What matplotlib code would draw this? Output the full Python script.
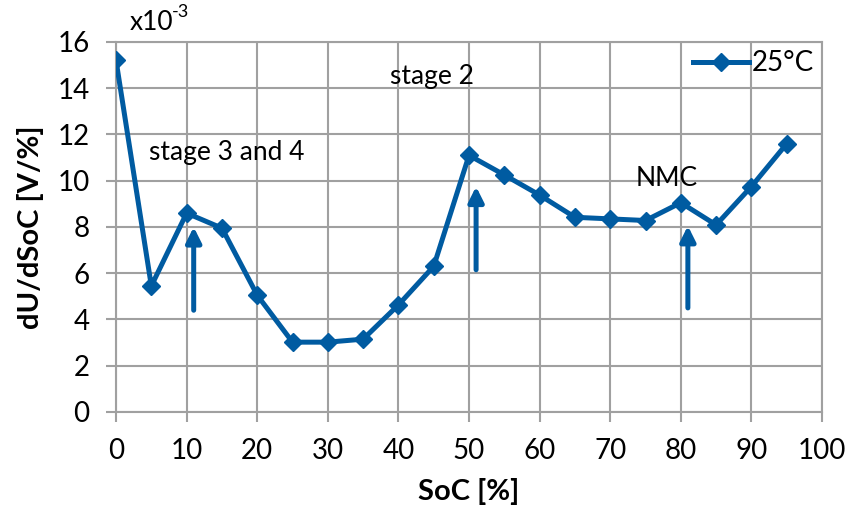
import matplotlib.pyplot as plt

plt.rcParams['font.family'] = ['Lato', 'DejaVu Sans']

# dU/dSoC at 25 °C, in units of 1e-3 V/%
soc = [0, 5, 10, 15, 20, 25, 30, 35, 40, 45, 50, 55, 60, 65, 70, 75, 80, 85, 90, 95]
dudsoc = [15.2, 5.45, 8.6, 7.95, 5.05, 3.02, 3.02, 3.15, 4.63, 6.3,
          11.1, 10.25, 9.38, 8.42, 8.35, 8.28, 9.05, 8.09, 9.75, 11.6]

# peak markers: (x, arrow start, arrow tip)
peak_arrows = [(11, 4.4, 8.0), (51, 6.15, 9.75), (81, 4.5, 8.05)]
notes = [('stage 3 and 4', 15.7, 11.2), ('stage 2', 44.7, 14.5), ('NMC', 78, 10.1)]

blue = '#005ba1'
grid_c = '#a0a0a0'

fig = plt.figure(figsize=(8.47, 5.17), dpi=100)
ax = fig.add_axes([0.137, 0.2031, 0.8335, 0.7157])

ax.plot(soc, dudsoc, color=blue, lw=3.6, marker='D', markersize=9.5,
        label='25°C', zorder=3)

for x, y0, y1 in peak_arrows:
    ax.annotate('', xy=(x, y1), xytext=(x, y0),
                arrowprops=dict(arrowstyle='-|>,head_length=0.9,head_width=0.45',
                                color=blue, lw=3.6, shrinkA=0, shrinkB=0))

for txt, x, y in notes:
    ax.text(x, y, txt, fontsize=19, ha='center', va='center')

ax.set_xlim(0, 100)
ax.set_ylim(0, 16)
ax.set_xticks(range(0, 101, 10))
ax.set_yticks(range(0, 17, 2))
ax.grid(True, color=grid_c, lw=1.5)
ax.set_axisbelow(True)
for s in ax.spines.values():
    s.set_color(grid_c)
    s.set_linewidth(1.5)
ax.tick_params(direction='out', length=7, width=1.5, color=grid_c,
               labelsize=20, pad=12)

ax.set_xlabel('SoC [%]', fontsize=21, fontweight='bold', labelpad=10)
ax.set_ylabel('dU/dSoC [V/%]', fontsize=21, fontweight='bold', labelpad=10)

ax.text(1.9, 16.3, 'x10', fontsize=19, ha='left', va='bottom')
ax.text(7.9, 16.95, '-3', fontsize=13, ha='left', va='bottom')

ax.legend(loc='upper right', bbox_to_anchor=(1.0, 1.0), frameon=False,
          fontsize=20, handlelength=2.0, handletextpad=0.1,
          borderpad=0.2, borderaxespad=0.1)

fig.savefig('out.png', dpi=100)
